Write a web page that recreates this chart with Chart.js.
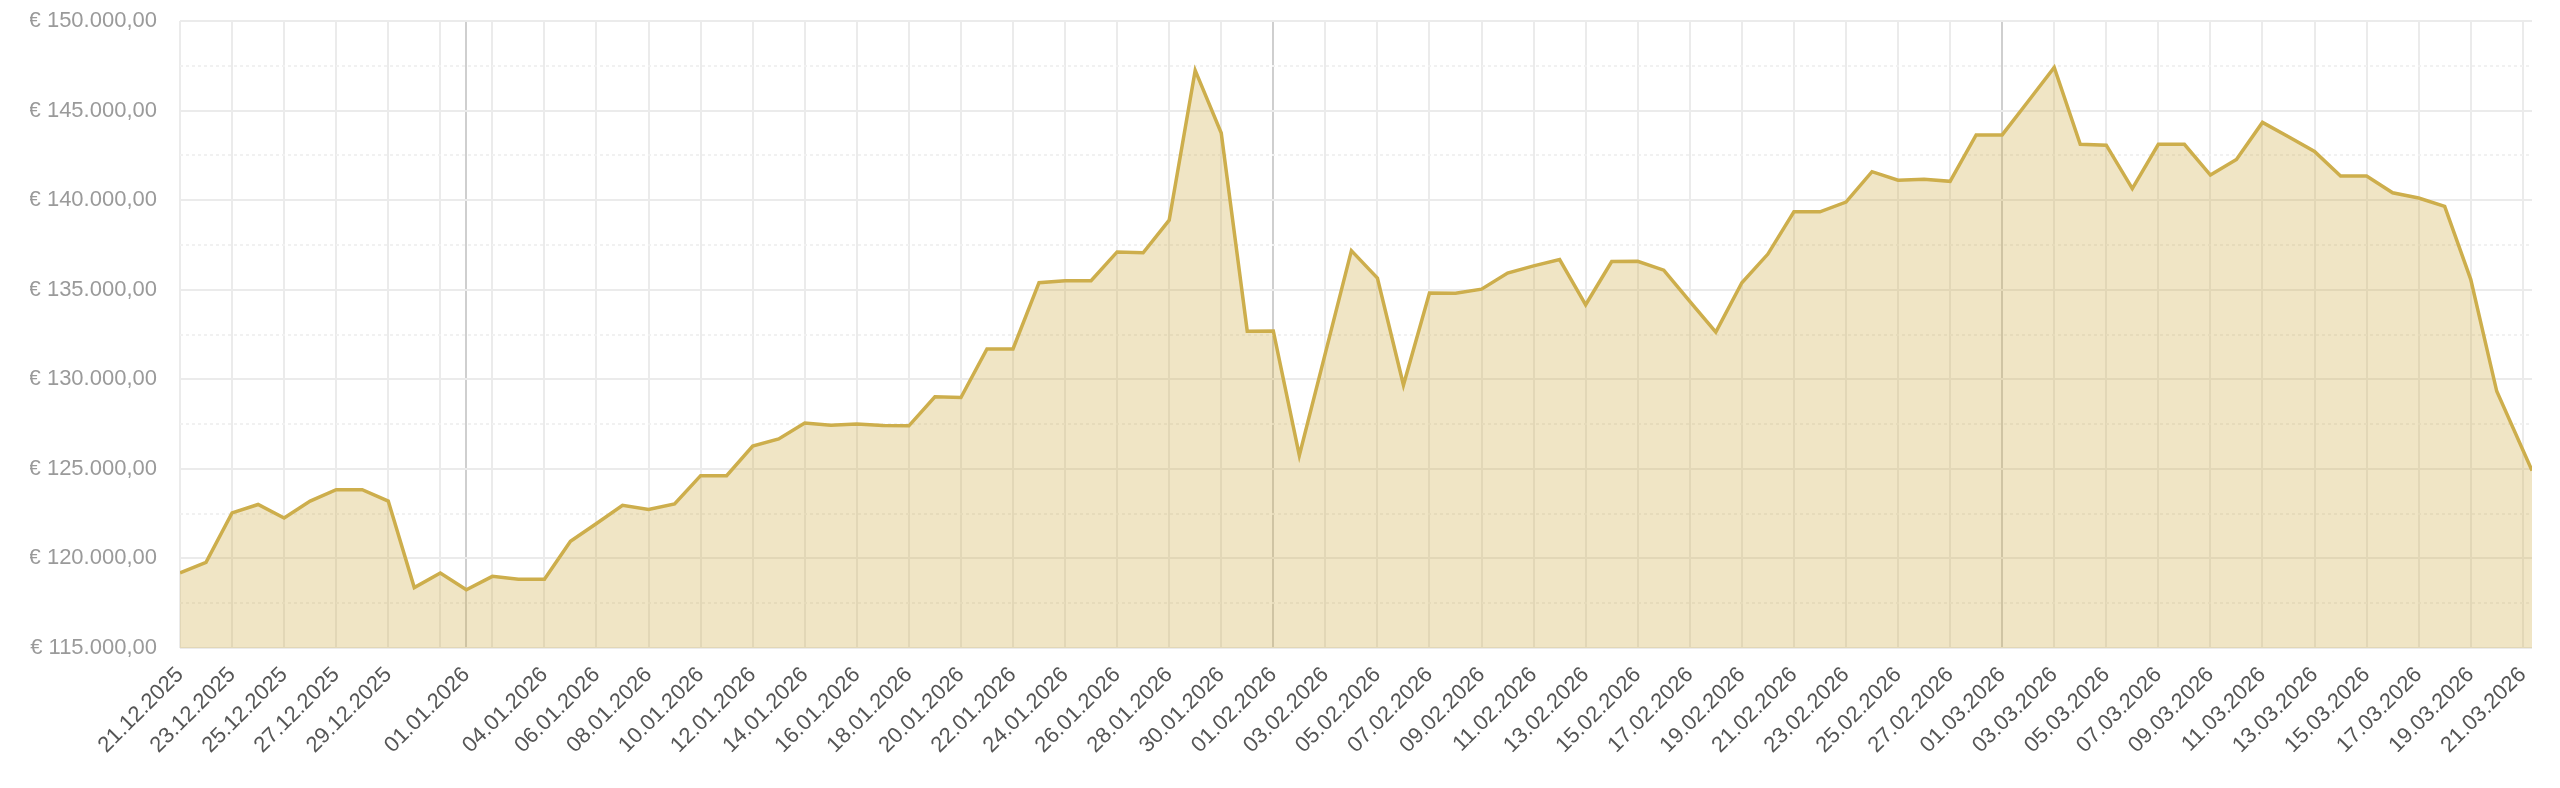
<!DOCTYPE html>
<html>
<head>
<meta charset="utf-8">
<title>Depot</title>
<script src="https://cdn.jsdelivr.net/npm/chart.js@4.4.1/dist/chart.umd.min.js"></script>
<style>
  html, body { margin: 0; padding: 0; background: #fff; }
  #wrap { width: 2560px; height: 788px; }
</style>
</head>
<body>
<div id="wrap"><canvas id="grafico" width="2560" height="788"></canvas></div>
<script>
const fechas = [
  "21.12.2025", "22.12.2025", "23.12.2025", "24.12.2025", "25.12.2025", "26.12.2025", "27.12.2025", "28.12.2025", "29.12.2025", "30.12.2025", "31.12.2025",
  "01.01.2026", "02.01.2026", "03.01.2026", "04.01.2026", "05.01.2026", "06.01.2026", "07.01.2026", "08.01.2026", "09.01.2026", "10.01.2026",
  "11.01.2026", "12.01.2026", "13.01.2026", "14.01.2026", "15.01.2026", "16.01.2026", "17.01.2026", "18.01.2026", "19.01.2026", "20.01.2026",
  "21.01.2026", "22.01.2026", "23.01.2026", "24.01.2026", "25.01.2026", "26.01.2026", "27.01.2026", "28.01.2026", "29.01.2026", "30.01.2026", "31.01.2026",
  "01.02.2026", "02.02.2026", "03.02.2026", "04.02.2026", "05.02.2026", "06.02.2026", "07.02.2026", "08.02.2026", "09.02.2026", "10.02.2026",
  "11.02.2026", "12.02.2026", "13.02.2026", "14.02.2026", "15.02.2026", "16.02.2026", "17.02.2026", "18.02.2026", "19.02.2026", "20.02.2026",
  "21.02.2026", "22.02.2026", "23.02.2026", "24.02.2026", "25.02.2026", "26.02.2026", "27.02.2026", "28.02.2026",
  "01.03.2026", "02.03.2026", "03.03.2026", "04.03.2026", "05.03.2026", "06.03.2026", "07.03.2026", "08.03.2026", "09.03.2026", "10.03.2026",
  "11.03.2026", "12.03.2026", "13.03.2026", "14.03.2026", "15.03.2026", "16.03.2026", "17.03.2026", "18.03.2026", "19.03.2026", "20.03.2026",
  "21.03.2026 08:30"
];

const valores = [
  119200, 119780, 122540, 123010, 122260, 123200, 123840, 123840, 123200, 118370, 119190,
  118250, 119000, 118840, 118840, 120960, 121950, 122970, 122730, 123040, 124620,
  124620, 126270, 126670, 127560, 127440, 127500, 127420, 127400, 129020, 128980,
  131690, 131690, 135390, 135500, 135500, 137110, 137060, 138880, 147240, 143750, 132680,
  132700, 125750, 131460, 137180, 135650, 129680, 134820, 134800, 135030, 135930,
  136330, 136680, 134160, 136570, 136590, 136090, 134350, 132630, 135390, 136990,
  139350, 139350, 139890, 141590, 141110, 141160, 141050, 143640,
  143640, 145520, 147410, 143120, 143070, 140640, 143120, 143120, 141400, 142270,
  144340, 143540, 142720, 141350, 141350, 140410, 140120, 139650, 135580, 129330,
  124900
];

// tick positions on the x axis (labels of 31.12 and 02.01 stay hidden)
const ticksX = [
  "21.12.2025", "23.12.2025", "25.12.2025", "27.12.2025", "29.12.2025", "31.12.2025",
  "01.01.2026", "02.01.2026", "04.01.2026", "06.01.2026", "08.01.2026", "10.01.2026", "12.01.2026", "14.01.2026",
  "16.01.2026", "18.01.2026", "20.01.2026", "22.01.2026", "24.01.2026", "26.01.2026", "28.01.2026", "30.01.2026",
  "01.02.2026", "03.02.2026", "05.02.2026", "07.02.2026", "09.02.2026", "11.02.2026", "13.02.2026", "15.02.2026",
  "17.02.2026", "19.02.2026", "21.02.2026", "23.02.2026", "25.02.2026", "27.02.2026",
  "01.03.2026", "03.03.2026", "05.03.2026", "07.03.2026", "09.03.2026", "11.03.2026", "13.03.2026", "15.03.2026",
  "17.03.2026", "19.03.2026", "21.03.2026"
];
const ticksOcultos = ["31.12.2025", "02.01.2026"];
const inicioMes = ["01.01.2026", "01.02.2026", "01.03.2026"];

const yMin = 115000;
const yMax = 150000;
const yPaso = 2500;

function aDia(s) {
  const [f, h] = s.split(" ");
  const [dd, mm, yy] = f.split(".").map(Number);
  let ms = Date.UTC(yy, mm - 1, dd);
  if (h) {
    const [hh, mi] = h.split(":").map(Number);
    ms += (hh * 60 + mi) * 60000;
  }
  return ms / 86400000;
}

const dia0 = aDia(fechas[0]);
const puntos = fechas.map((f, i) => ({ x: aDia(f) - dia0, y: valores[i] }));
const valoresTicks = ticksX.map((f) => aDia(f) - dia0);
const valoresMes = inicioMes.map((f) => aDia(f) - dia0);

function euro(v) {
  const ent = Math.floor(v).toString().replace(/\B(?=(\d{3})+(?!\d))/g, ".");
  return "€ " + ent + ",00";
}

const fuente = { family: "'Liberation Sans', Arial, Helvetica, sans-serif", size: 22 };

const ctx = document.getElementById("grafico").getContext("2d");
new Chart(ctx, {
  type: "line",
  data: {
    datasets: [
      {
        data: puntos,
        borderColor: "#cdae4c",
        backgroundColor: "rgba(207, 174, 75, 0.32)",
        borderWidth: 3.5,
        pointRadius: 0,
        tension: 0,
        fill: "start",
      },
    ],
  },
  options: {
    responsive: false,
    animation: false,
    devicePixelRatio: 1,
    layout: { padding: { top: 21, left: 30, right: 28, bottom: 0 } },
    plugins: {
      legend: { display: false },
      tooltip: { enabled: false },
    },
    scales: {
      x: {
        type: "linear",
        min: 0,
        max: puntos[puntos.length - 1].x,
        afterBuildTicks: (scale) => {
          scale.ticks = valoresTicks.map((v) => ({ value: v }));
        },
        afterFit: (scale) => {
          scale.height = 140;
        },
        ticks: {
          autoSkip: false,
          maxRotation: 45,
          minRotation: 45,
          padding: 14,
          color: "#555",
          font: fuente,
          callback: (value, index) => {
            const f = ticksX[index];
            return ticksOcultos.includes(f) ? "" : f;
          },
        },
        grid: {
          drawTicks: false,
          lineWidth: 2,
          color: (c) => {
            if (c.tick && valoresMes.includes(c.tick.value)) return "#cfcfcf";
            return "#ebebeb";
          },
        },
        border: { display: false },
      },
      y: {
        min: yMin,
        max: yMax,
        afterFit: (scale) => {
          scale.width = 150;
          // the tick padding would otherwise push the plot down
          scale.paddingTop = 0;
          scale.paddingBottom = 0;
        },
        ticks: {
          stepSize: yPaso,
          padding: 23,
          color: "#9a9a9a",
          font: fuente,
          callback: (v) => (v % 5000 === 0 ? euro(v) : ""),
        },
        grid: {
          drawTicks: false,
          lineWidth: 2,
          color: (c) => (c.tick && c.tick.value % 5000 !== 0 ? "#f1f1f1" : "#ebebeb"),
        },
        border: {
          display: false,
          dash: (c) => (c.tick && c.tick.value % 5000 !== 0 ? [3, 3] : []),
        },
      },
    },
  },
});
</script>
</body>
</html>
